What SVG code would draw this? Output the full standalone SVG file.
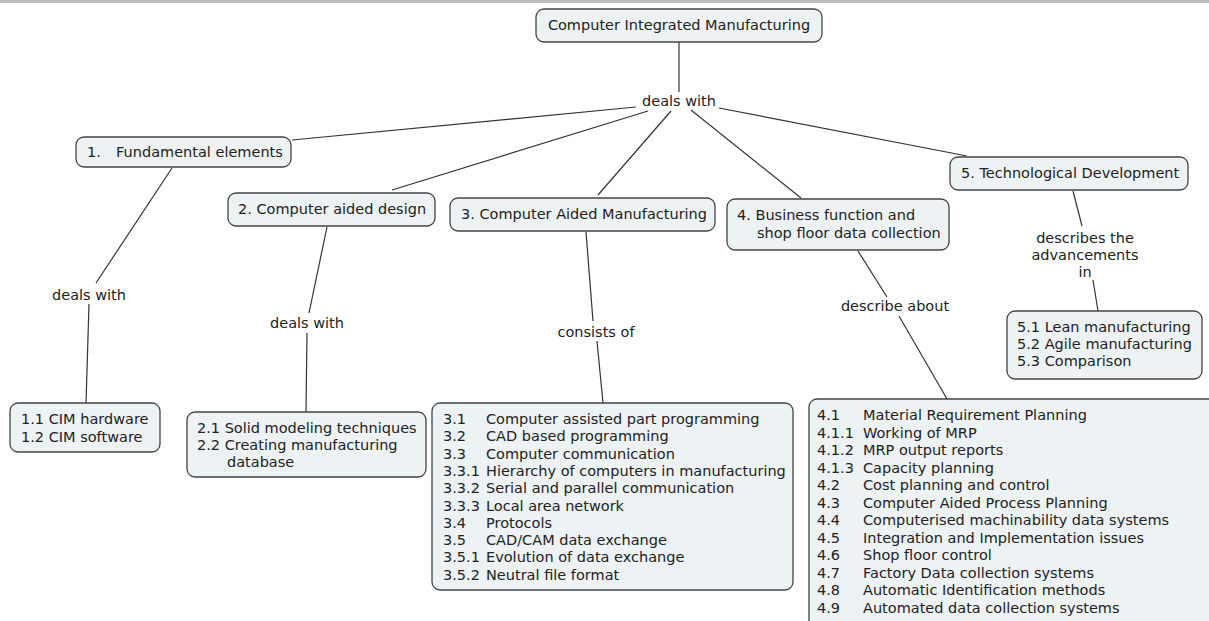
<svg xmlns="http://www.w3.org/2000/svg" width="1209" height="621" viewBox="0 0 1209 621">
  <style>
    .node rect { fill: #edf2f4; stroke: #444; stroke-width: 1.3; }
    text { font-family: "DejaVu Sans", Verdana, sans-serif; font-size: 14.5px; fill: #222; }
    #connectors line { stroke: #333; stroke-width: 1.2; }
  </style>

  <!-- top rule -->
  <rect x="0" y="0" width="1209" height="3" fill="#bdbdbd"/>

  <!-- connectors -->
  <g id="connectors">
    <line x1="679" y1="42" x2="679" y2="92"/>
    <line x1="636" y1="107" x2="292" y2="140"/>
    <line x1="648" y1="111" x2="392" y2="190"/>
    <line x1="671" y1="111" x2="598" y2="195"/>
    <line x1="691" y1="110" x2="801" y2="198"/>
    <line x1="719" y1="108" x2="967" y2="156"/>

    <line x1="172" y1="168" x2="96" y2="283"/>
    <line x1="89" y1="304" x2="86" y2="403"/>

    <line x1="327" y1="227" x2="309" y2="313"/>
    <line x1="307" y1="333" x2="306" y2="412"/>

    <line x1="586" y1="232" x2="593" y2="321"/>
    <line x1="597" y1="341" x2="603" y2="403"/>

    <line x1="858" y1="251" x2="887" y2="297"/>
    <line x1="899" y1="316" x2="947" y2="399"/>

    <line x1="1073" y1="191" x2="1082" y2="226"/>
    <line x1="1093" y1="280" x2="1098" y2="311"/>
  </g>

  <!-- linking phrases -->
  <g id="label-root">
    <text x="679" y="106" text-anchor="middle">deals with</text>
  </g>
  <g id="label-1">
    <text x="89" y="300" text-anchor="middle">deals with</text>
  </g>
  <g id="label-2">
    <text x="307" y="328" text-anchor="middle">deals with</text>
  </g>
  <g id="label-3">
    <text x="596" y="337" text-anchor="middle">consists of</text>
  </g>
  <g id="label-4">
    <text x="895" y="311" text-anchor="middle">describe about</text>
  </g>
  <g id="label-5">
    <text x="1085" y="243" text-anchor="middle">describes the</text>
    <text x="1085" y="260" text-anchor="middle">advancements</text>
    <text x="1085" y="277" text-anchor="middle">in</text>
  </g>

  <!-- concepts -->
  <g id="node-root" class="node">
    <rect x="536" y="9" width="286" height="33" rx="8"/>
    <text x="679" y="30" text-anchor="middle">Computer Integrated Manufacturing</text>
  </g>

  <g id="node-1" class="node">
    <rect x="76" y="137" width="215" height="30" rx="8"/>
    <text x="87" y="157">1.</text>
    <text x="116" y="157">Fundamental elements</text>
  </g>

  <g id="node-2" class="node">
    <rect x="228" y="193" width="207" height="33" rx="8"/>
    <text x="238" y="214">2. Computer aided design</text>
  </g>

  <g id="node-3" class="node">
    <rect x="450" y="198" width="265" height="33" rx="8"/>
    <text x="461" y="219">3. Computer Aided Manufacturing</text>
  </g>

  <g id="node-4" class="node">
    <rect x="727" y="199" width="222" height="51" rx="8"/>
    <text x="737" y="220">4. Business function and</text>
    <text x="757" y="238">shop floor data collection</text>
  </g>

  <g id="node-5" class="node">
    <rect x="950" y="157" width="238" height="33" rx="8"/>
    <text x="961" y="178">5. Technological Development</text>
  </g>

  <g id="node-1-items" class="node">
    <rect x="10" y="403" width="150" height="49" rx="8"/>
    <text x="21" y="424">1.1 CIM hardware</text>
    <text x="21" y="442">1.2 CIM software</text>
  </g>

  <g id="node-2-items" class="node">
    <rect x="187" y="412" width="239" height="65" rx="8"/>
    <text x="197" y="433">2.1 Solid modeling techniques</text>
    <text x="197" y="450">2.2 Creating manufacturing</text>
    <text x="227" y="467">database</text>
  </g>

  <g id="node-3-items" class="node">
    <rect x="432" y="403" width="361" height="187" rx="8"/>
    <text x="443" y="424">3.1</text><text x="486" y="424">Computer assisted part programming</text>
    <text x="443" y="441.3">3.2</text><text x="486" y="441.3">CAD based programming</text>
    <text x="443" y="458.6">3.3</text><text x="486" y="458.6">Computer communication</text>
    <text x="443" y="475.9">3.3.1</text><text x="486" y="475.9">Hierarchy of computers in manufacturing</text>
    <text x="443" y="493.2">3.3.2</text><text x="486" y="493.2">Serial and parallel communication</text>
    <text x="443" y="510.5">3.3.3</text><text x="486" y="510.5">Local area network</text>
    <text x="443" y="527.8">3.4</text><text x="486" y="527.8">Protocols</text>
    <text x="443" y="545.1">3.5</text><text x="486" y="545.1">CAD/CAM data exchange</text>
    <text x="443" y="562.4">3.5.1</text><text x="486" y="562.4">Evolution of data exchange</text>
    <text x="443" y="579.7">3.5.2</text><text x="486" y="579.7">Neutral file format</text>
  </g>

  <g id="node-4-items" class="node">
    <rect x="809" y="399" width="420" height="240" rx="8"/>
    <text x="817" y="420">4.1</text><text x="863" y="420">Material Requirement Planning</text>
    <text x="817" y="437.5">4.1.1</text><text x="863" y="437.5">Working of MRP</text>
    <text x="817" y="455">4.1.2</text><text x="863" y="455">MRP output reports</text>
    <text x="817" y="472.5">4.1.3</text><text x="863" y="472.5">Capacity planning</text>
    <text x="817" y="490">4.2</text><text x="863" y="490">Cost planning and control</text>
    <text x="817" y="507.5">4.3</text><text x="863" y="507.5">Computer Aided Process Planning</text>
    <text x="817" y="525">4.4</text><text x="863" y="525">Computerised machinability data systems</text>
    <text x="817" y="542.5">4.5</text><text x="863" y="542.5">Integration and Implementation issues</text>
    <text x="817" y="560">4.6</text><text x="863" y="560">Shop floor control</text>
    <text x="817" y="577.5">4.7</text><text x="863" y="577.5">Factory Data collection systems</text>
    <text x="817" y="595">4.8</text><text x="863" y="595">Automatic Identification methods</text>
    <text x="817" y="612.5">4.9</text><text x="863" y="612.5">Automated data collection systems</text>
  </g>

  <g id="node-5-items" class="node">
    <rect x="1007" y="311" width="195" height="68" rx="8"/>
    <text x="1017" y="332">5.1 Lean manufacturing</text>
    <text x="1017" y="349">5.2 Agile manufacturing</text>
    <text x="1017" y="366">5.3 Comparison</text>
  </g>
</svg>
